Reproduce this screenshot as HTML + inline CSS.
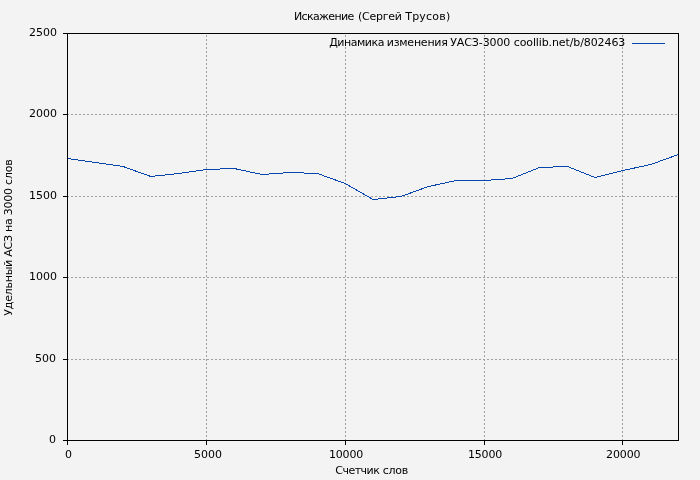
<!DOCTYPE html>
<html><head><meta charset="utf-8"><title>Искажение (Сергей Трусов)</title>
<style>
html,body{margin:0;padding:0;background:#f3f3f3;}
svg{display:block;will-change:transform;opacity:0.999;}
text{font-family:"DejaVu Sans", "Liberation Sans", sans-serif;font-size:11px;fill:#000;}
</style></head><body>
<svg width="700" height="480" viewBox="0 0 700 480">
<rect x="0" y="0" width="700" height="480" fill="#f3f3f3"/>
<g shape-rendering="crispEdges" fill="none">
<line x1="67" y1="359.5" x2="678" y2="359.5" stroke="#a0a0a0" stroke-width="1" stroke-dasharray="2 2"/>
<line x1="67" y1="277.5" x2="678" y2="277.5" stroke="#a0a0a0" stroke-width="1" stroke-dasharray="2 2"/>
<line x1="67" y1="196.5" x2="678" y2="196.5" stroke="#a0a0a0" stroke-width="1" stroke-dasharray="2 2"/>
<line x1="67" y1="114.5" x2="678" y2="114.5" stroke="#a0a0a0" stroke-width="1" stroke-dasharray="2 2"/>
<line x1="206.5" y1="441" x2="206.5" y2="33" stroke="#a0a0a0" stroke-width="1" stroke-dasharray="2 2"/>
<line x1="345.5" y1="441" x2="345.5" y2="33" stroke="#a0a0a0" stroke-width="1" stroke-dasharray="2 2"/>
<line x1="484.5" y1="441" x2="484.5" y2="33" stroke="#a0a0a0" stroke-width="1" stroke-dasharray="2 2"/>
<line x1="622.5" y1="441" x2="622.5" y2="33" stroke="#a0a0a0" stroke-width="1" stroke-dasharray="2 2"/>
<line x1="63" y1="440.5" x2="67" y2="440.5" stroke="#000" stroke-width="1"/>
<line x1="63" y1="359.5" x2="67" y2="359.5" stroke="#000" stroke-width="1"/>
<line x1="63" y1="277.5" x2="67" y2="277.5" stroke="#000" stroke-width="1"/>
<line x1="63" y1="196.5" x2="67" y2="196.5" stroke="#000" stroke-width="1"/>
<line x1="63" y1="114.5" x2="67" y2="114.5" stroke="#000" stroke-width="1"/>
<line x1="63" y1="33.5" x2="67" y2="33.5" stroke="#000" stroke-width="1"/>
<line x1="67.5" y1="440" x2="67.5" y2="445" stroke="#000" stroke-width="1"/>
<line x1="206.5" y1="440" x2="206.5" y2="445" stroke="#000" stroke-width="1"/>
<line x1="345.5" y1="440" x2="345.5" y2="445" stroke="#000" stroke-width="1"/>
<line x1="484.5" y1="440" x2="484.5" y2="445" stroke="#000" stroke-width="1"/>
<line x1="622.5" y1="440" x2="622.5" y2="445" stroke="#000" stroke-width="1"/>
<polyline points="67.50,158.50 95.27,162.50 123.05,166.50 150.82,176.50 178.59,173.50 206.36,169.50 234.14,168.50 261.91,174.50 289.68,172.50 317.45,173.50 345.23,183.50 373.00,199.50 400.77,196.50 428.55,186.50 456.32,180.50 484.09,180.50 511.86,178.50 539.64,167.50 567.41,166.50 595.18,177.50 622.95,170.50 650.73,164.50 678.50,154.50" stroke="#0645ad" stroke-width="1"/>
<line x1="632" y1="43.5" x2="665" y2="43.5" stroke="#0645ad" stroke-width="1"/>
<rect x="67.5" y="33.5" width="611" height="407" stroke="#000" stroke-width="1"/>
</g>
<text x="56" y="443" text-anchor="end">0</text>
<text x="56" y="362" text-anchor="end">500</text>
<text x="57" y="280" text-anchor="end">1000</text>
<text x="57" y="199" text-anchor="end">1500</text>
<text x="57" y="117" text-anchor="end">2000</text>
<text x="57" y="36" text-anchor="end">2500</text>
<text x="68.5" y="457.5" text-anchor="middle">0</text>
<text x="208" y="457.5" text-anchor="middle">5000</text>
<text x="346.1" y="457.5" text-anchor="middle" textLength="34.2">10000</text>
<text x="485.1" y="457.5" text-anchor="middle" textLength="34.2">15000</text>
<text x="623.3" y="457.5" text-anchor="middle" textLength="34.6">20000</text>
<text x="294.03" y="20" textLength="60.23">Искажение</text>
<text x="357.91" y="20" textLength="44.05">(Сергей</text>
<text x="405.21" y="20" textLength="44.98">Трусов)</text>
<text x="329.20" y="46" textLength="55.19">Динамика</text>
<text x="386.78" y="46" textLength="61.10">изменения</text>
<text x="450.25" y="46" textLength="60.11">УАСЗ-3000</text>
<text x="513.71" y="46" textLength="111.56">coollib.net/b/802463</text>
<text x="335.26" y="474" textLength="44.54">Счетчик</text>
<text x="382.81" y="474" textLength="25.45">слов</text>
<text transform="translate(11.5,237.5) rotate(-90)" text-anchor="middle" textLength="156.4">Удельный АСЗ на 3000 слов</text>
</svg></body></html>
